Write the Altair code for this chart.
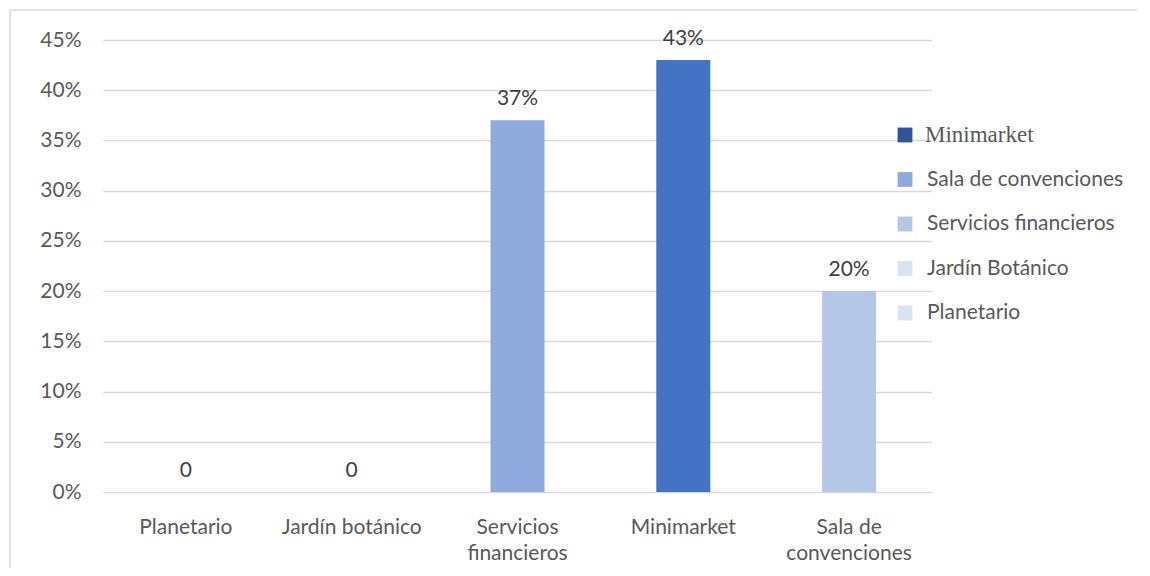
import altair as alt
import pandas as pd

# ---- data ----
categories = ["Planetario", "Jardín botánico", "Servicios financieros", "Minimarket", "Sala de convenciones"]
axis_labels = ["Planetario", "Jardín botánico", "Servicios|financieros", "Minimarket", "Sala de|convenciones"]
values = [0.0, 0.0, 0.37, 0.43, 0.20]
value_labels = ["0", "0", "37%", "43%", "20%"]
bar_colors = ["#DAE3F3", "#DAE3F3", "#8FAADC", "#4472C4", "#B4C7E7"]

legend_items = ["Minimarket", "Sala de convenciones", "Servicios financieros", "Jardín Botánico", "Planetario"]
legend_colors = ["#2F5597", "#8FAADC", "#B4C7E7", "#DAE3F3", "#DAE3F3"]

y_ticks = [0.0, 0.05, 0.10, 0.15, 0.20, 0.25, 0.30, 0.35, 0.40, 0.45]

FONT = "Lato"
FS = 21
TXT = "#595959"

df = pd.DataFrame({"cat": categories, "label": axis_labels, "value": values, "vlabel": value_labels})
leg = pd.DataFrame({"item": legend_items, "color": legend_colors})

x_enc = alt.X(
    "label:N",
    sort=axis_labels,
    scale=alt.Scale(paddingInner=0, paddingOuter=0),
    axis=alt.Axis(
        title=None, labelAngle=0, domain=False, ticks=False,
        labelExpr="split(datum.label, '|')",
        labelFont=FONT, labelFontSize=FS, labelColor=TXT,
        labelPadding=24, labelLineHeight=26, labelBaseline="top",
    ),
)
y_enc = alt.Y(
    "value:Q",
    scale=alt.Scale(domain=[0, 0.45], nice=False),
    axis=alt.Axis(
        title=None, values=y_ticks, format=".0%", domain=False, ticks=False,
        labelFont=FONT, labelFontSize=FS, labelColor=TXT, labelPadding=22,
        grid=True, gridColor="#d9d9d9", gridWidth=1.4,
    ),
)

base = alt.Chart(df)
bars = base.mark_bar(size=54).encode(
    x=x_enc,
    y=y_enc,
    color=alt.Color("cat:N", scale=alt.Scale(domain=categories, range=bar_colors), legend=None),
)
labels = base.mark_text(dy=-21, baseline="middle", font=FONT, fontSize=FS, color="#404040").encode(
    x=alt.X("label:N", sort=axis_labels),
    y=alt.Y("value:Q"),
    text="vlabel:N",
)
main = alt.layer(bars, labels)

leg_y = alt.Y(
    "item:N",
    sort=legend_items,
    scale=alt.Scale(type="point", domain=legend_items, range=[95, 273], padding=0),
    axis=None,
)
leg_base = alt.Chart(leg)
leg_sq = leg_base.mark_square(size=220, opacity=1).encode(
    x=alt.value(802),
    y=leg_y,
    color=alt.Color("item:N", scale=alt.Scale(domain=legend_items, range=legend_colors), legend=None),
)
leg_txt_serif = leg_base.transform_filter(alt.datum.item == "Minimarket").mark_text(
    align="left", baseline="middle", font="Liberation Serif", fontSize=23, color=TXT
).encode(x=alt.value(822), y=leg_y, text="item:N")
leg_txt = leg_base.transform_filter(alt.datum.item != "Minimarket").mark_text(
    align="left", baseline="middle", font=FONT, fontSize=FS, color=TXT
).encode(x=alt.value(824), y=leg_y, text="item:N")
legend = alt.layer(leg_sq, leg_txt_serif, leg_txt)

one = alt.Data(values=[{"k": 1}])
border_left = alt.Chart(one).mark_rule(color="#d9d9d9", strokeWidth=1.5).encode(
    x=alt.value(-93), y=alt.value(-30), y2=alt.value(600)
)
border_top = alt.Chart(one).mark_rule(color="#d9d9d9", strokeWidth=1.5).encode(
    x=alt.value(-93), x2=alt.value(1200), y=alt.value(-30)
)

chart = (
    alt.layer(border_left, border_top, main, legend)
    .resolve_scale(y="independent", color="independent")
    .properties(
        width=829,
        height=452,
        autosize=alt.AutoSizeParams(type="none"),
        padding={"left": 95, "top": 32, "right": 205, "bottom": 76},
        background="white",
    )
    .configure_view(stroke=None)
)

chart.save("out.html", embed_options={"renderer": "svg", "actions": False})
